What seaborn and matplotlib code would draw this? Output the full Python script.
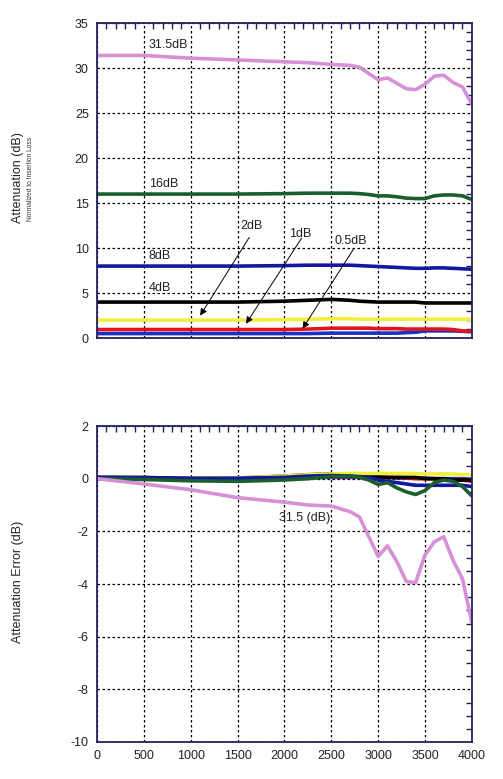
import numpy as np
import pandas as pd
import matplotlib
matplotlib.use("Agg")
import matplotlib.pyplot as plt
from matplotlib.ticker import MultipleLocator
import seaborn as sns

# Frequency points (MHz)
freq = [0, 500, 1000, 1500, 2000, 2250, 2500, 2700, 2800, 2900, 3000,
        3100, 3200, 3300, 3400, 3500, 3600, 3700, 3800, 3900, 4000]

# Attenuation state curves (dB), top chart
att_31_5 = [31.4, 31.4, 31.1, 30.9, 30.7, 30.6, 30.4, 30.3, 30.1, 29.4, 28.7,
            28.9, 28.3, 27.7, 27.6, 28.2, 29.1, 29.2, 28.4, 27.9, 26.0]
att_16 = [16.0, 16.0, 16.0, 16.0, 16.05, 16.1, 16.1, 16.1, 16.05, 15.95, 15.8,
          15.8, 15.7, 15.55, 15.5, 15.5, 15.8, 15.9, 15.9, 15.8, 15.4]
att_8 = [8.0, 8.0, 8.0, 8.0, 8.05, 8.1, 8.1, 8.1, 8.05, 8.0, 7.95,
         7.9, 7.85, 7.8, 7.75, 7.75, 7.8, 7.8, 7.75, 7.7, 7.65]
att_4 = [4.0, 4.0, 4.0, 4.0, 4.1, 4.2, 4.3, 4.2, 4.1, 4.05, 4.0,
         4.0, 4.0, 4.0, 4.0, 3.9, 3.9, 3.9, 3.9, 3.9, 3.9]
att_2 = [2.0, 2.0, 2.0, 2.0, 2.05, 2.1, 2.15, 2.15, 2.1, 2.1, 2.1,
         2.1, 2.1, 2.1, 2.1, 2.1, 2.1, 2.1, 2.1, 2.1, 2.1]
att_1 = [0.95, 0.95, 0.95, 0.95, 0.95, 1.0, 1.1, 1.1, 1.1, 1.1, 1.05,
         1.05, 1.05, 1.0, 1.0, 1.0, 1.0, 1.0, 0.95, 0.8, 0.75]
att_0_5 = [0.5, 0.5, 0.5, 0.5, 0.5, 0.5, 0.55, 0.55, 0.55, 0.55, 0.55,
           0.55, 0.55, 0.6, 0.65, 0.8, 0.8, 0.8, 0.8, 0.75, 0.7]

# Attenuation error curves (dB), bottom chart
err_31_5 = [0.0, -0.2, -0.42, -0.72, -0.89, -1.0, -1.04, -1.25, -1.45, -2.2, -2.95,
            -2.55, -3.15, -3.9, -3.95, -2.9, -2.4, -2.2, -3.1, -3.8, -5.45]
err_16 = [0.0, -0.03, -0.08, -0.1, -0.05, 0.0, 0.08, 0.1, 0.05, -0.05, -0.22,
          -0.15, -0.35, -0.5, -0.6, -0.45, -0.15, -0.05, -0.1, -0.3, -0.65]
err_8 = [0.05, 0.03, 0.0, 0.02, 0.05, 0.1, 0.12, 0.1, 0.08, 0.05, -0.05,
         -0.1, -0.15, -0.2, -0.25, -0.25, -0.25, -0.25, -0.25, -0.25, -0.3]
err_4 = [0.05, 0.05, 0.0, 0.02, 0.1, 0.15, 0.18, 0.15, 0.1, 0.1, 0.08,
         0.05, 0.05, 0.05, 0.05, 0.0, 0.0, 0.0, -0.05, -0.05, -0.05]
err_2 = [0.0, 0.0, 0.0, 0.03, 0.1, 0.15, 0.18, 0.2, 0.2, 0.2, 0.2,
         0.2, 0.2, 0.2, 0.2, 0.18, 0.18, 0.18, 0.18, 0.15, 0.15]
err_1 = [0.0, 0.0, 0.0, 0.0, 0.02, 0.05, 0.08, 0.08, 0.08, 0.05, 0.05,
         0.05, 0.05, 0.03, 0.0, 0.0, 0.0, -0.02, -0.05, -0.05, -0.1]
err_0_5 = [0.02, 0.02, 0.02, 0.02, 0.03, 0.05, 0.05, 0.05, 0.05, 0.05, 0.05,
           0.05, 0.03, 0.03, 0.02, 0.02, 0.0, 0.0, 0.0, 0.0, -0.02]

states = ["0.5dB", "1dB", "2dB", "4dB", "8dB", "16dB", "31.5dB"]
att_series = [att_0_5, att_1, att_2, att_4, att_8, att_16, att_31_5]
err_series = [err_0_5, err_1, err_4, err_2, err_8, err_16, err_31_5]
err_states = ["0.5dB", "1dB", "4dB", "2dB", "8dB", "16dB", "31.5dB"]

colors = {"0.5dB": "#1a2fc4", "1dB": "#e0141c", "2dB": "#f2ef3c",
          "4dB": "#000000", "8dB": "#1218a0", "16dB": "#1b5e2c",
          "31.5dB": "#d690d6"}

frame_col = "#22225e"


def long_frame(names, series):
    rows = []
    for name, vals in zip(names, series):
        for f, v in zip(freq, vals):
            rows.append({"freq": f, "value": v, "state": name})
    return pd.DataFrame(rows)


def style_axes(ax):
    for sp in ax.spines.values():
        sp.set_color(frame_col)
        sp.set_linewidth(1.3)
        sp.set_visible(True)
    ax.grid(True, which="major", color="black", linestyle=(0, (2, 2)), linewidth=0.9)
    ax.tick_params(which="both", direction="in", top=True, right=True,
                   color=frame_col, labelsize=9, labelcolor="#222222")
    ax.tick_params(which="major", length=0, pad=6)
    ax.tick_params(which="minor", length=4, width=1)
    ax.set_xlim(0, 4000)
    ax.xaxis.set_major_locator(MultipleLocator(500))
    ax.xaxis.set_minor_locator(MultipleLocator(100))
    ax.set_xlabel("")
    ax.set_ylabel("")


sns.set_theme(style="white")
plt.rcParams["font.family"] = ["Liberation Sans", "DejaVu Sans"]
plt.rcParams["axes.unicode_minus"] = False

fig = plt.figure(figsize=(5.03, 7.79), dpi=100)
ax1 = fig.add_axes([0.193, 0.566, 0.745, 0.4044])
ax2 = fig.add_axes([0.193, 0.0475, 0.745, 0.4056])

# Top chart: attenuation
top_df = long_frame(states, att_series)
sns.lineplot(data=top_df, x="freq", y="value", hue="state", hue_order=states,
             palette=colors, linewidth=2.6, legend=False, ax=ax1)
style_axes(ax1)
ax1.set_ylim(0, 35)
ax1.yaxis.set_major_locator(MultipleLocator(5))
ax1.yaxis.set_minor_locator(MultipleLocator(1))
ax1.set_xticklabels([])

lab_kw = dict(fontsize=9, color="#222222")
ax1.text(550, 32.6, "31.5dB", va="center", **lab_kw)
ax1.text(550, 17.1, "16dB", va="center", **lab_kw)
ax1.text(550, 9.1, "8dB", va="center", **lab_kw)
ax1.text(550, 5.6, "4dB", va="center", **lab_kw)

arrow_kw = dict(arrowstyle="-|>", color="black", lw=0.7, mutation_scale=10,
                shrinkA=0, shrinkB=0)
ax1.annotate("", xy=(1100, 2.5), xytext=(1625, 11.2), arrowprops=arrow_kw)
ax1.annotate("", xy=(1590, 1.6), xytext=(2183, 11.1), arrowprops=arrow_kw)
ax1.annotate("", xy=(2194, 1.05), xytext=(2741, 9.95), arrowprops=arrow_kw)
ax1.text(1530, 12.5, "2dB", va="center", **lab_kw)
ax1.text(2045, 11.6, "1dB", va="center", **lab_kw)
ax1.text(2530, 10.8, "0.5dB", va="center", **lab_kw)

# Bottom chart: attenuation error
bot_df = long_frame(err_states, err_series)
sns.lineplot(data=bot_df, x="freq", y="value", hue="state", hue_order=err_states,
             palette=colors, linewidth=2.6, legend=False, ax=ax2)
style_axes(ax2)
ax2.set_ylim(-10, 2)
ax2.yaxis.set_major_locator(MultipleLocator(2))
ax2.yaxis.set_minor_locator(MultipleLocator(0.5))
ax2.text(2213, -1.5, "31.5 (dB)", ha="center", va="center", **lab_kw)

# Axis titles
fig.text(0.036, 1 - 178 / 779, "Attenuation (dB)", rotation=90, ha="center",
         va="center", fontsize=9, color="#222222")
fig.text(0.060, 1 - 179 / 779, "Normalized to Insertion Loss", rotation=90,
         ha="center", va="center", fontsize=4.8, color="#333333")
fig.text(0.036, 1 - 582 / 779, "Attenuation Error (dB)", rotation=90, ha="center",
         va="center", fontsize=9, color="#222222")

fig.savefig("out.png", dpi=100)
